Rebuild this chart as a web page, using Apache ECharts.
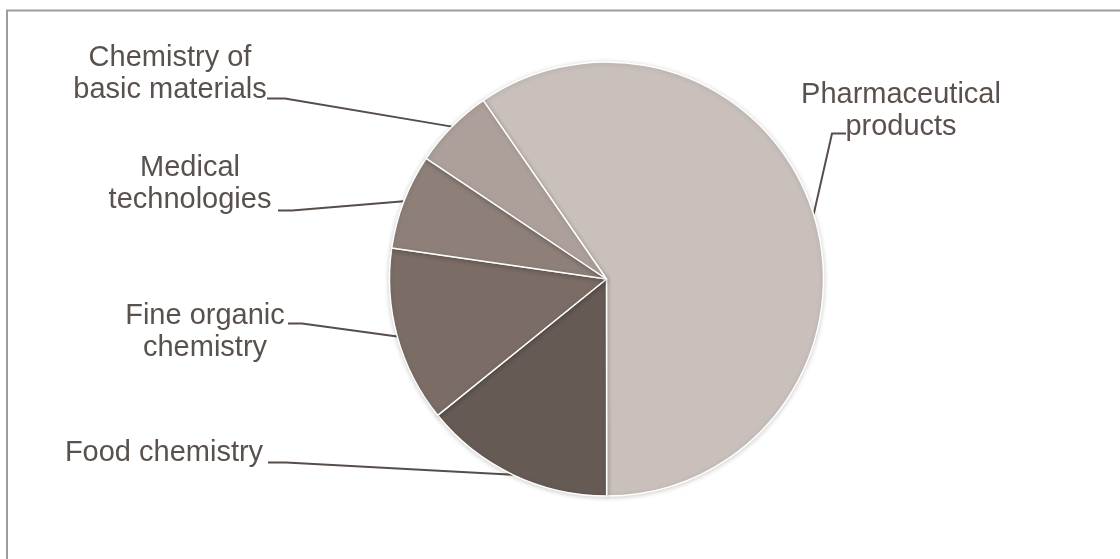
<!DOCTYPE html>
<html>
<head>
<meta charset="utf-8">
<script src="https://cdn.jsdelivr.net/npm/echarts@6/dist/echarts.min.js"></script>
<style>
html,body{margin:0;padding:0;background:#fff;}
#chart{width:1120px;height:559px;}
</style>
</head>
<body>
<div id="chart"></div>
<script>
// ---- data ----
const categories = ['Pharmaceutical\nproducts', 'Food chemistry', 'Fine organic\nchemistry', 'Medical\ntechnologies', 'Chemistry of\nbasic materials'];
const values = [59.6, 14.2, 13.1, 7.1, 6.0];
const colors = ['#C9C0BB', '#655A54', '#7B6C65', '#8E8079', '#ADA09B'];

// ---- layout (label placement, not data) ----
const CENTER = [606.5, 279];
const RADIUS = 217;
const START_ANGLE = 124.6;
const labelPlacement = [
  { x: 901, y: 111, elbow: [832, 133.5], anchor: [846, 133.5] },
  { x: 164, y: 453, elbow: [286, 462.5], anchor: [268, 462.5] },
  { x: 205, y: 332, elbow: [302, 323.5], anchor: [288, 323.5] },
  { x: 190, y: 184, elbow: [292, 210.5], anchor: [278, 210.5] },
  { x: 170, y: 74,  elbow: [285, 98.5],  anchor: [267, 98.5] }
];

const total = values.reduce((a, b) => a + b, 0);
function edgePoint(i) {
  let before = 0;
  for (let k = 0; k < i; k++) before += values[k];
  const mid = (before + values[i] / 2) / total * 360;
  const ang = (START_ANGLE - mid) * Math.PI / 180;
  return [CENTER[0] + RADIUS * Math.cos(ang), CENTER[1] - RADIUS * Math.sin(ang)];
}

const chart = echarts.init(document.getElementById('chart'));
chart.setOption({
  animation: false,
  backgroundColor: '#fff',
  graphic: [{
    type: 'rect',
    shape: { x: 7, y: 10.5, width: 1300, height: 800 },
    style: { fill: 'none', stroke: '#9C9C9C', lineWidth: 2 },
    silent: true
  }],
  series: [{
    type: 'pie',
    center: CENTER,
    radius: RADIUS,
    startAngle: START_ANGLE,
    clockwise: true,
    avoidLabelOverlap: false,
    data: categories.map((c, i) => ({ name: c, value: values[i], itemStyle: { color: colors[i] } })),
    itemStyle: {
      borderColor: '#ffffff',
      borderWidth: 1.5,
      shadowBlur: 5,
      shadowColor: 'rgba(0,0,0,0.18)',
      shadowOffsetY: 1
    },
    label: {
      show: true,
      position: 'outside',
      formatter: '{b}',
      fontFamily: '"Liberation Sans", Arial, sans-serif',
      fontSize: 29,
      lineHeight: 32,
      color: '#5A514D',
      align: 'center'
    },
    labelLine: {
      show: true,
      smooth: false,
      lineStyle: { color: '#574D49', width: 2 }
    },
    labelLayout: function (params) {
      const L = labelPlacement[params.dataIndex];
      const p0 = (params.labelLinePoints && params.labelLinePoints[0]) || edgePoint(params.dataIndex);
      return {
        x: L.x,
        y: L.y,
        align: 'center',
        verticalAlign: 'middle',
        labelLinePoints: [p0, L.elbow, L.anchor]
      };
    },
    emphasis: { disabled: true }
  }]
});
</script>
</body>
</html>
